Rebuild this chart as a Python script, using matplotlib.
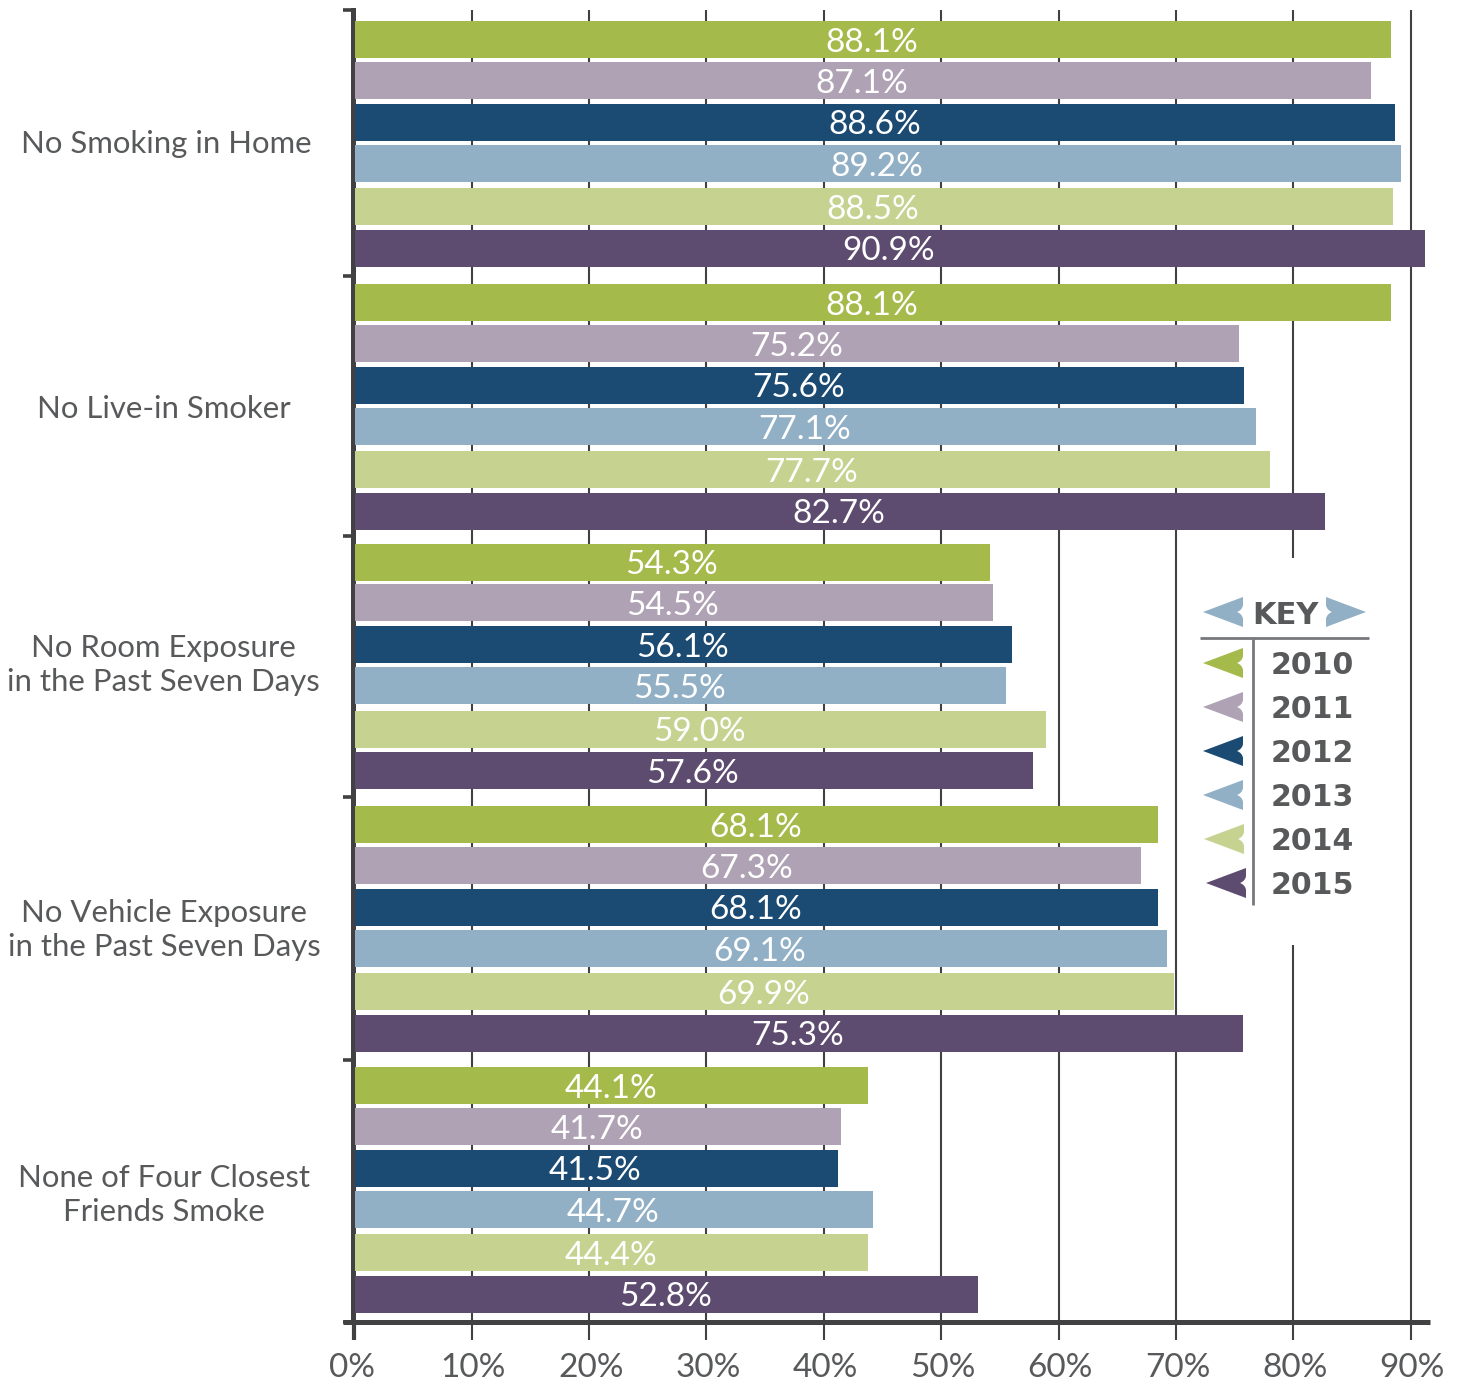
import matplotlib
matplotlib.use("Agg")
import matplotlib.pyplot as plt
from matplotlib.patches import PathPatch, Rectangle
from matplotlib.path import Path
from matplotlib.transforms import ScaledTranslation

# ====== DATA ======
CATEGORIES = [
    "No Smoking in Home",
    "No Live-in Smoker",
    "No Room Exposure\nin the Past Seven Days",
    "No Vehicle Exposure\nin the Past Seven Days",
    "None of Four Closest\nFriends Smoke",
]
YEARS = ["2010", "2011", "2012", "2013", "2014", "2015"]
X_TICKS = [0, 10, 20, 30, 40, 50, 60, 70, 80, 90]

# printed labels
LABELS_2010 = [88.1, 88.1, 54.3, 68.1, 44.1]
LABELS_2011 = [87.1, 75.2, 54.5, 67.3, 41.7]
LABELS_2012 = [88.6, 75.6, 56.1, 68.1, 41.5]
LABELS_2013 = [89.2, 77.1, 55.5, 69.1, 44.7]
LABELS_2014 = [88.5, 77.7, 59.0, 69.9, 44.4]
LABELS_2015 = [90.9, 82.7, 57.6, 75.3, 52.8]

# bar lengths as drawn, they differ a little from the printed labels
BARS_2010 = [88.3, 88.3, 54.2, 68.5, 43.8]
BARS_2011 = [86.6, 75.4, 54.4, 67.0, 41.5]
BARS_2012 = [88.7, 75.8, 56.0, 68.5, 41.2]
BARS_2013 = [89.2, 76.8, 55.5, 69.2, 44.2]
BARS_2014 = [88.5, 78.0, 58.9, 69.8, 43.8]
BARS_2015 = [91.2, 82.7, 57.8, 75.7, 53.1]

COLORS = ["#a4bb4b", "#afa2b4", "#1b4b73", "#91b0c6", "#c5d290", "#5d4c70"]
TEXT = "#58595b"
DARK = "#414042"
FONT = "Lato"


def flag(ax, tip_x, base_x, y, half, color):
    # arrow flag with a pointed notch in its base, points to tip_x
    d = 1 if base_x > tip_x else -1
    verts = [
        (tip_x, y),
        (base_x, y - half),
        (base_x, y - half * 0.45),
        (base_x - 1 * d, y - half * 0.12),
        (base_x - 6 * d, y),
        (base_x - 1 * d, y + half * 0.12),
        (base_x, y + half * 0.45),
        (base_x, y + half),
        (tip_x, y),
    ]
    codes = [Path.MOVETO, Path.LINETO, Path.LINETO, Path.CURVE3, Path.CURVE3,
             Path.CURVE3, Path.CURVE3, Path.LINETO, Path.CLOSEPOLY]
    ax.add_patch(PathPatch(Path(verts, codes), facecolor=color, edgecolor="none"))


def main():
    fig = plt.figure(figsize=(14.63, 13.8), dpi=100)
    ax = fig.add_axes([354.2 / 1463, 1 - 1322 / 1380, (1430 - 354.2) / 1463, 1312 / 1380])

    bars = [BARS_2010, BARS_2011, BARS_2012, BARS_2013, BARS_2014, BARS_2015]
    labels = [LABELS_2010, LABELS_2011, LABELS_2012, LABELS_2013, LABELS_2014, LABELS_2015]
    centers = [0.509, 1.512, 2.500, 3.501, 4.496]
    offsets = [-0.3963, -0.2401, -0.0819, 0.0762, 0.2401, 0.3982]
    height = 0.141
    left = 0.07

    for s, (vals, labs) in enumerate(zip(bars, labels)):
        ys = [c + offsets[s] for c in centers]
        ax.barh(ys, [v - left for v in vals], left=left, height=height, color=COLORS[s], zorder=3)
        for y, v, lab in zip(ys, vals, labs):
            ax.text((left + v) / 2 - 0.08, y + 0.012, f"{lab:.1f}%", color="white", fontsize=24,
                    family=FONT, ha="center", va="center", zorder=4)

    ax.set_xlim(0, 91.64)
    ax.set_ylim(5, 0)
    ax.set_xticks(X_TICKS)
    ax.set_xticklabels([f"{t}%" for t in X_TICKS], fontsize=24, family=FONT, color=TEXT)
    ax.set_yticks([0, 1.014, 2.004, 3.0, 4.0, 5.0])
    ax.set_yticklabels([])
    ax.tick_params(axis="x", length=13, width=1.5, color=DARK, pad=9)
    ax.tick_params(axis="y", length=7, width=2.6, color=DARK)
    ax.get_xticklines()[0].set_markeredgewidth(3.0)
    ax.grid(True, axis="x", color=DARK, linewidth=1.5, zorder=1)
    ax.set_axisbelow(True)
    # the 0% label sits a bit left of the others
    for t, tick_label in zip(X_TICKS, ax.get_xticklabels()):
        nudge = -1.5 if t == 0 else 1.2
        shift = ScaledTranslation(nudge / 72, 0, fig.dpi_scale_trans)
        tick_label.set_transform(tick_label.get_transform() + shift)

    for side in ["top", "right", "bottom"]:
        ax.spines[side].set_visible(False)
    ax.spines["left"].set_linewidth(3.6)
    ax.spines["left"].set_color(DARK)
    ax.spines["left"].set_position(("data", -0.1))
    # base line runs a bit past the axis on both sides
    ax.plot([-0.95, 91.64], [5, 5], color=DARK, linewidth=3.6, clip_on=False,
            solid_capstyle="butt", zorder=5)

    # overlay in pixels for the row names and the key
    over = fig.add_axes([0, 0, 1, 1], facecolor="none")
    over.set_xlim(0, 1463)
    over.set_ylim(1380, 0)
    over.axis("off")

    label_pos = [(166, 144), (164, 409), (163, 665), (164, 930), (164, 1195)]
    for name, (x, y) in zip(CATEGORIES, label_pos):
        over.text(x, y, name, fontsize=22.4, family=FONT, color=TEXT, ha="center",
                  va="center", linespacing=1.27)

    # key
    over.add_patch(Rectangle((1185, 558), 205, 387, facecolor="white", edgecolor="none"))
    flag(over, 1203, 1243, 612, 15, COLORS[3])
    flag(over, 1366, 1326, 612, 15, COLORS[3])
    over.text(1285.5, 615, "KEY", fontsize=22, family="DejaVu Sans", fontweight="bold",
              color=TEXT, ha="center", va="center")
    over.plot([1200, 1369], [638, 638], color="#77787b", linewidth=2, solid_capstyle="butt")
    over.plot([1253, 1253], [639, 905], color="#77787b", linewidth=2, solid_capstyle="butt")
    flag_y = [663, 707, 751, 795, 839, 883]
    flag_x = [1203, 1203, 1203, 1203, 1204, 1206]
    for year, color, y, x in zip(YEARS, COLORS, flag_y, flag_x):
        flag(over, x, x + 40, y, 15, color)
        over.text(1312.5, y + 3, year, fontsize=21.6, family="DejaVu Sans", fontweight="bold",
                  color=TEXT, ha="center", va="center")

    fig.savefig("out.png", dpi=100, facecolor="white")
    plt.close(fig)


if __name__ == "__main__":
    main()
